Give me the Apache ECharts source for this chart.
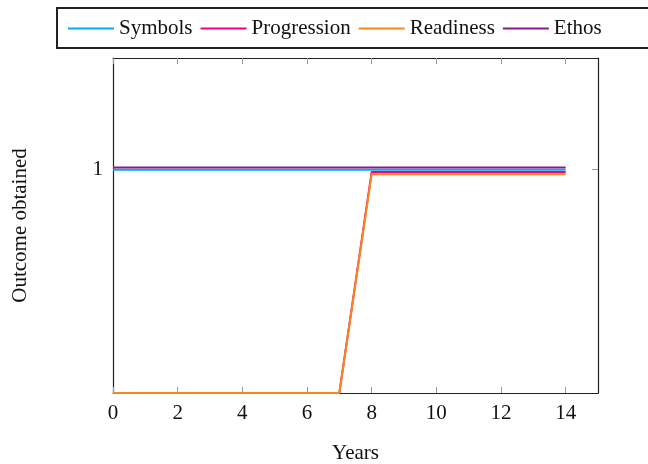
<!DOCTYPE html>
<html>
<head>
<meta charset="utf-8">
<script src="https://cdn.jsdelivr.net/npm/echarts@6/dist/echarts.min.js"></script>
<style>
  html, body { margin: 0; padding: 0; background: #fff; }
  #chart { width: 648px; height: 464px; }
</style>
</head>
<body>
<div id="chart"></div>
<script>
// Years on the horizontal axis
const years = [0, 1, 2, 3, 4, 5, 6, 7, 8, 9, 10, 11, 12, 13, 14];

// Outcome obtained per series
const symbols     = [1, 1, 1, 1, 1, 1, 1, 1, 1, 1, 1, 1, 1, 1, 1];
const progression = [0, 0, 0, 0, 0, 0, 0, 0, 0.99, 0.99, 0.99, 0.99, 0.99, 0.99, 0.99];
const readiness   = [0, 0, 0, 0, 0, 0, 0, 0, 0.98, 0.98, 0.98, 0.98, 0.98, 0.98, 0.98];
const ethos       = [1.01, 1.01, 1.01, 1.01, 1.01, 1.01, 1.01, 1.01, 1.01, 1.01, 1.01, 1.01, 1.01, 1.01, 1.01];

const seriesNames = ['Symbols', 'Progression', 'Readiness', 'Ethos'];
const seriesColors = ['#00AEEF', '#EC008C', '#F7871D', '#8B1A8E'];

// Tick positions
const xTicks = [0, 2, 4, 6, 8, 10, 12, 14];
const yTicks = [1];

const font = '"Liberation Serif", "DejaVu Serif", serif';
const pairs = (ys) => years.map((x, i) => [x, ys[i]]);

const chart = echarts.init(document.getElementById('chart'), null, { renderer: 'canvas' });

const axisLineStyle = { color: '#222', width: 1.2 };
const tickStyle = { color: '#999', width: 1 };

chart.setOption({
  animation: false,
  textStyle: { fontFamily: font },
  grid: { left: 113, right: 50, top: 58, bottom: 71, outerBoundsMode: 'none', containLabel: false },
  graphic: [{
    type: 'rect',
    shape: { x: 57, y: 8, width: 600, height: 40 },
    style: { fill: 'none', stroke: '#222', lineWidth: 2 }
  }],
  legend: {
    left: 63,
    top: 13,
    icon: 'rect',
    itemWidth: 46,
    itemHeight: 2,
    itemGap: 8,
    data: seriesNames,
    textStyle: { fontFamily: font, fontSize: 21, color: '#111' }
  },
  xAxis: [{
    type: 'value',
    min: 0, max: 15,
    name: 'Years',
    nameLocation: 'middle',
    nameGap: 50,
    nameTextStyle: { fontFamily: font, fontSize: 21, color: '#111' },
    axisLine: { show: true, onZero: false, lineStyle: axisLineStyle },
    axisTick: { show: true, inside: true, length: 6, customValues: xTicks, lineStyle: tickStyle },
    axisLabel: { customValues: xTicks, fontFamily: font, fontSize: 21, color: '#111', margin: 10 },
    splitLine: { show: false }
  }, {
    type: 'value',
    position: 'top',
    min: 0, max: 15,
    axisLine: { show: true, onZero: false, lineStyle: axisLineStyle },
    axisTick: { show: true, inside: true, length: 6, customValues: xTicks, lineStyle: tickStyle },
    axisLabel: { show: false },
    splitLine: { show: false }
  }],
  yAxis: [{
    type: 'value',
    min: 0, max: 1.5,
    name: 'Outcome obtained',
    nameLocation: 'middle',
    nameGap: 82,
    nameTextStyle: { fontFamily: font, fontSize: 21, color: '#111' },
    axisLine: { show: true, onZero: false, lineStyle: axisLineStyle },
    axisTick: { show: true, inside: true, length: 6, customValues: yTicks, lineStyle: tickStyle },
    axisLabel: { customValues: yTicks, fontFamily: font, fontSize: 21, color: '#111', margin: 10 },
    splitLine: { show: false }
  }, {
    type: 'value',
    position: 'right',
    min: 0, max: 1.5,
    axisLine: { show: true, onZero: false, lineStyle: axisLineStyle },
    axisTick: { show: true, inside: true, length: 6, customValues: yTicks, lineStyle: tickStyle },
    axisLabel: { show: false },
    splitLine: { show: false }
  }],
  series: [symbols, progression, readiness, ethos].map((ys, i) => ({
    name: seriesNames[i],
    type: 'line',
    data: pairs(ys),
    showSymbol: false,
    symbol: 'none',
    color: seriesColors[i],
    lineStyle: { width: 2, color: seriesColors[i] },
    z: 2 + i
  }))
});
</script>
</body>
</html>
